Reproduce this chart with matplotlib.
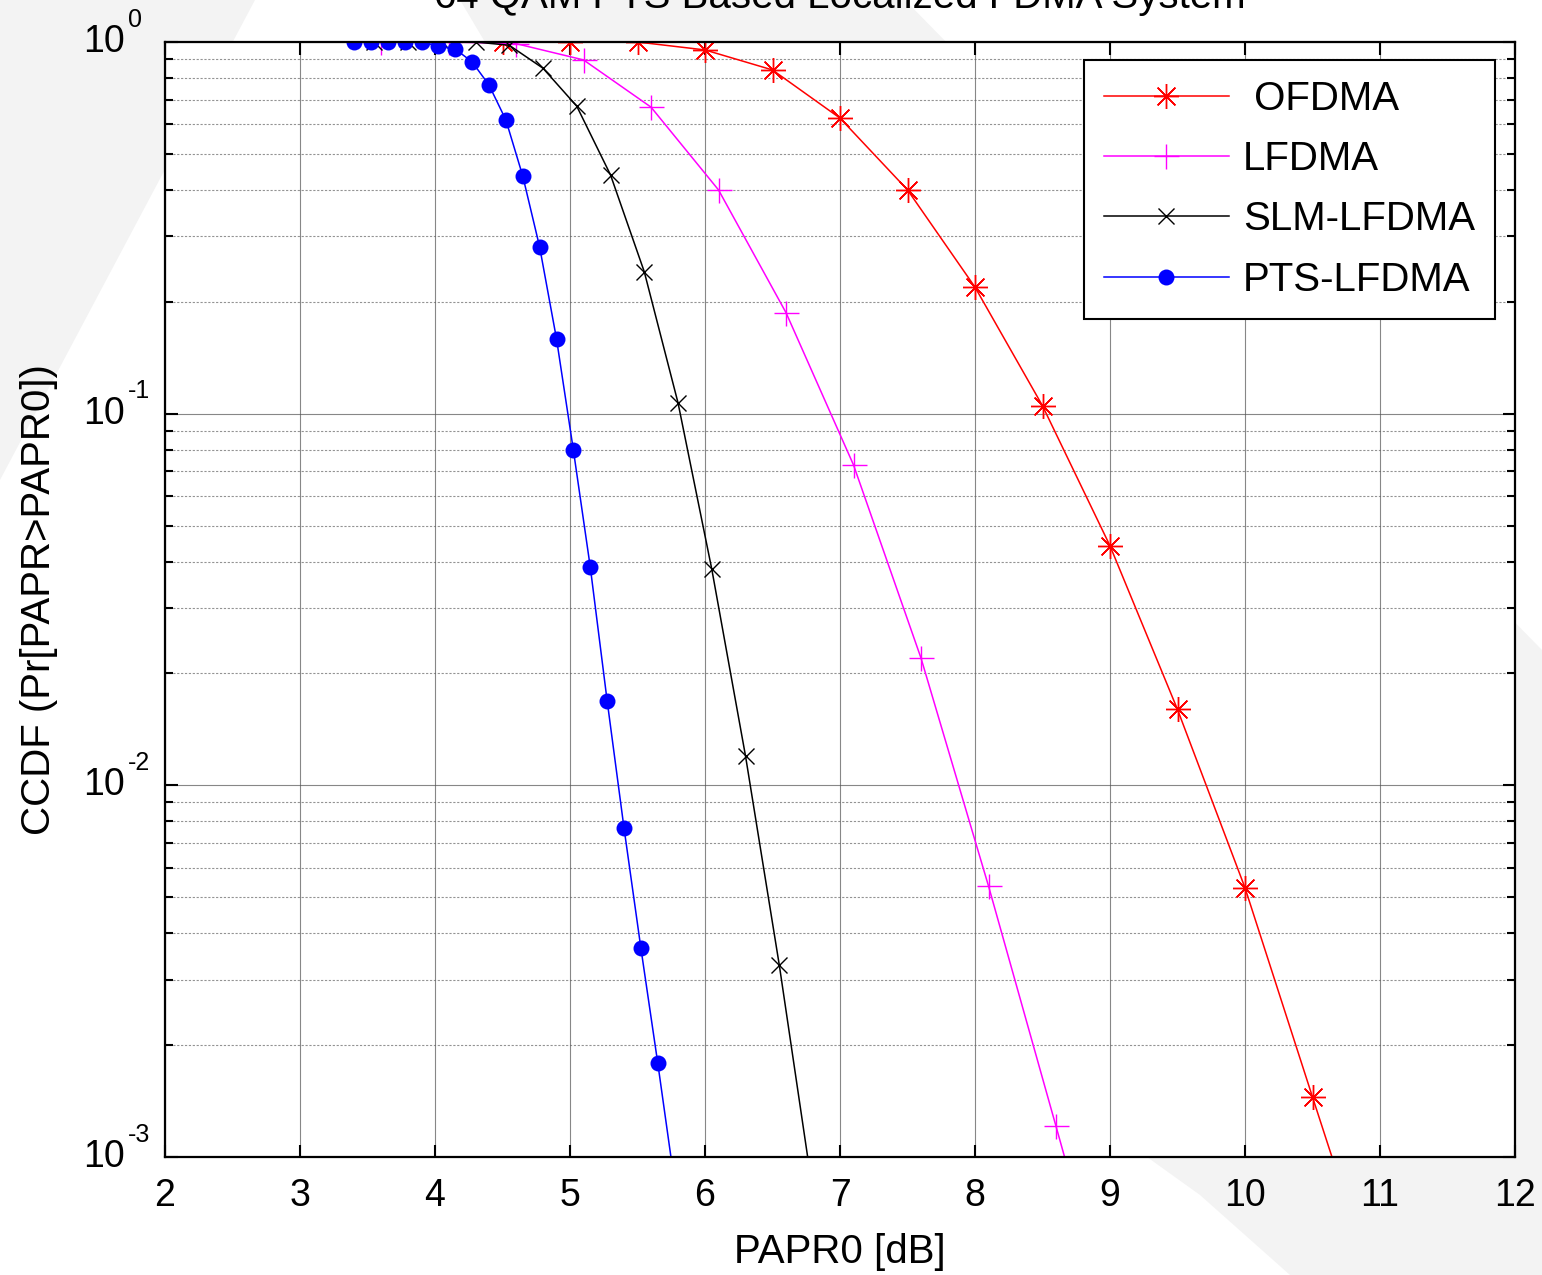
import matplotlib
matplotlib.use("Agg")
import matplotlib.pyplot as plt
from matplotlib.patches import Polygon
from matplotlib.ticker import LogLocator, NullFormatter
import numpy as np

plt.rcParams["font.family"] = ["Liberation Sans", "DejaVu Sans"]

# ---- data ----
ofdma_x = [4.5, 5.0, 5.5, 6.0, 6.5, 7.0, 7.5, 8.0, 8.5, 9.0, 9.5, 10.0, 10.5, 11.0]
ofdma_y = [1.0, 1.0, 1.0, 0.952, 0.841, 0.624, 0.400, 0.219, 0.105, 0.0441,
           0.0160, 0.0053, 0.00145, 0.0004]

lfdma_x = [3.6, 4.1, 4.6, 5.1, 5.6, 6.1, 6.6, 7.1, 7.6, 8.1, 8.6, 9.1]
lfdma_y = [1.0, 1.0, 0.99, 0.895, 0.668, 0.400, 0.187, 0.0728, 0.0220,
           0.00536, 0.00121, 0.00027]

slm_x = [3.55, 3.8, 4.05, 4.3, 4.55, 4.8, 5.05, 5.3, 5.55, 5.8, 6.05, 6.3, 6.55, 6.8]
slm_y = [1.0, 1.0, 1.0, 1.0, 0.98, 0.85, 0.672, 0.439, 0.241, 0.107, 0.0382,
         0.0120, 0.00329, 0.0008]

pts_x = [3.4, 3.525, 3.65, 3.775, 3.9, 4.025, 4.15, 4.275, 4.4, 4.525, 4.65,
         4.775, 4.9, 5.025, 5.15, 5.275, 5.4, 5.525, 5.65, 5.775]
pts_y = [1.0, 1.0, 1.0, 1.0, 1.0, 0.975, 0.957, 0.884, 0.766, 0.617, 0.436,
         0.281, 0.159, 0.0798, 0.0387, 0.0169, 0.00768, 0.00365, 0.00179, 0.00085]

xticks = list(range(2, 13))
yticks = [1e-3, 1e-2, 1e-1, 1e0]
ytick_exps = ["-3", "-2", "-1", "0"]

W, H = 1542, 1275
fig = plt.figure(figsize=(W / 100, H / 100), dpi=100, facecolor="white")


def fpoly(pts):
    # figure-pixel (from top) -> figure fraction
    return [(x / W, 1 - y / H) for x, y in pts]


# light-gray background swooshes (behind everything)
bg = "#f3f3f3"
fig.patches.append(Polygon(fpoly([(0, 0), (255, 0), (0, 480)]), closed=True,
                           facecolor=bg, edgecolor="none", transform=fig.transFigure, zorder=-10))
fig.patches.append(Polygon(fpoly([(460, 0), (905, 0), (1542, 650), (1542, 1275), (1290, 1275),
                                  (1200, 1195), (1147, 1157)]), closed=True,
                           facecolor=bg, edgecolor="none", transform=fig.transFigure, zorder=-10))

ax = fig.add_axes([165 / W, 1 - 1157 / H, (1515 - 165) / W, (1157 - 42) / H])
ax.set_facecolor("white")

ax.plot(ofdma_x, ofdma_y, color="#ff0000", lw=1.1, marker=(8, 2, 0), ms=18, mew=1.0,
        label=" OFDMA")
ax.plot(lfdma_x, lfdma_y, color="#ff00ff", lw=1.1, marker="+", ms=18, mew=1.0,
        label="LFDMA")
ax.plot(slm_x, slm_y, color="black", lw=1.1, marker="x", ms=12, mew=1.0,
        label="SLM-LFDMA")
ax.plot(pts_x, pts_y, color="#0000ff", lw=1.1, marker="o", ms=11.5, mew=0,
        label="PTS-LFDMA")

ax.set_yscale("log")
ax.set_xlim(2, 12)
ax.set_ylim(1e-3, 1)
ax.set_xticks(xticks)
ax.set_xticklabels([str(t) for t in xticks])
ax.set_yticks(yticks)
ax.set_yticklabels([])
ax.yaxis.set_minor_locator(LogLocator(base=10, subs=np.arange(2, 10)))
ax.yaxis.set_minor_formatter(NullFormatter())

# MATLAB-style "10^n" y tick labels
ytr = ax.get_yaxis_transform()
for val, e in zip(yticks, ytick_exps):
    ax.text((125 - 165) / 1350, val, "10", transform=ytr, fontsize=27,
            ha="right", va="center", clip_on=False)
    ax.annotate(e, xy=((128 - 165) / 1350, val), xycoords=ytr,
                xytext=(0, 16), textcoords="offset points", fontsize=18,
                ha="left", va="center", annotation_clip=False)

ax.tick_params(which="major", direction="in", length=9, width=1.5, labelsize=27,
               top=True, right=True, pad=15)
ax.tick_params(which="minor", direction="in", length=6, width=1.5, top=True, right=True)

ax.grid(True, which="major", color="#555555", linestyle="-", linewidth=0.8, alpha=0.7)
ax.grid(True, which="minor", axis="y", color="#666666", linestyle=(0, (2, 1.5)),
        linewidth=0.8, alpha=0.7)
for s in ax.spines.values():
    s.set_linewidth(1.6)
    s.set_color("black")

ax.set_xlabel("PAPR0 [dB]", fontsize=29, labelpad=14)
ax.set_ylabel("CCDF (Pr[PAPR>PAPR0])", fontsize=29, labelpad=62)

fig.text(840 / W, 1 - 8 / H, "64 QAM PTS Based Localized FDMA System", fontsize=29,
         ha="center", va="baseline")

leg = ax.legend(loc="upper right", bbox_to_anchor=(1495 / W, 1 - 60 / H),
                bbox_transform=fig.transFigure, borderaxespad=0, fontsize=29,
                handlelength=3.1, handletextpad=0.35, labelspacing=0.55,
                borderpad=0.5, fancybox=False, framealpha=1, edgecolor="black")
leg.get_frame().set_linewidth(1.5)

fig.savefig("out.png", dpi=100, facecolor=fig.get_facecolor())
